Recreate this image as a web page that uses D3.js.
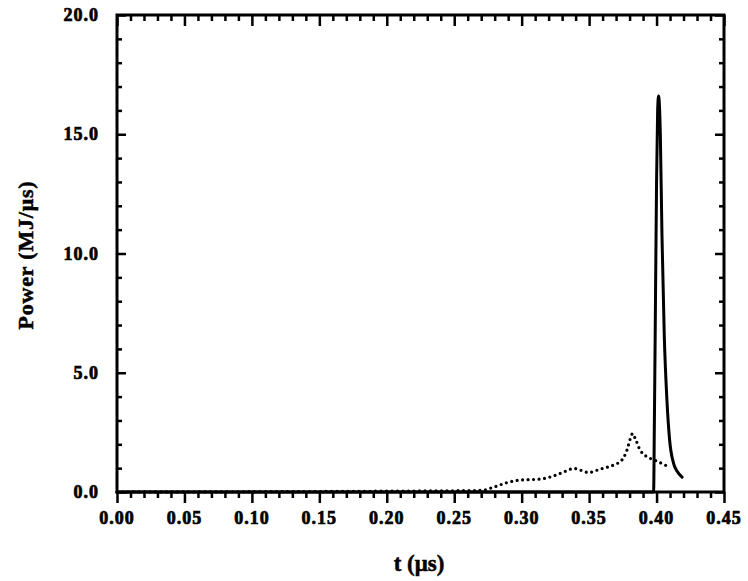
<!DOCTYPE html>
<html><head><meta charset="utf-8">
<script src="https://cdn.jsdelivr.net/npm/d3@7"></script>
<style>
html,body{margin:0;padding:0;background:#fff;}
svg text{font-family:"Liberation Serif","DejaVu Serif",serif;font-weight:bold;fill:#000;}
</style></head>
<body>
<svg id="chart" width="748" height="581"></svg>
<script>
// Solid curve: power vs time
const solidT = [0.0, 0.3978, 0.3984, 0.3992, 0.4000, 0.4008, 0.4015, 0.4028, 0.4040, 0.4057, 0.4077, 0.4097, 0.4126, 0.4155, 0.4189];
const solidP = [0.0, 0.0, 3.0, 8.0, 13.0, 16.0, 16.6, 15.0, 10.8, 6.6, 3.84, 2.17, 1.2, 0.85, 0.62];
// Dotted curve
const dotT = [0.0, 0.2394, 0.2617, 0.2716, 0.279, 0.289, 0.2988, 0.3137, 0.3235, 0.3335, 0.3384, 0.3434, 0.3495, 0.3582, 0.368, 0.3743, 0.378, 0.381, 0.3822, 0.3842, 0.3879, 0.3953, 0.4003, 0.4089];
const dotP = [0.0, 0.05, 0.06, 0.08, 0.2, 0.39, 0.5, 0.54, 0.67, 0.89, 0.99, 0.92, 0.82, 0.96, 1.13, 1.34, 1.75, 2.31, 2.45, 2.24, 1.75, 1.41, 1.29, 1.06];
const xTicks = [0.00, 0.05, 0.10, 0.15, 0.20, 0.25, 0.30, 0.35, 0.40, 0.45];
const xTickLabels = ["0.00", "0.05", "0.10", "0.15", "0.20", "0.25", "0.30", "0.35", "0.40", "0.45"];
const yTicks = [0, 5, 10, 15, 20];
const yTickLabels = ["0.0", "5.0", "10.0", "15.0", "20.0"];
const xTitle = "t (\u03bcs)";
const yTitle = "Power (MJ/\u03bcs)";

const svg = d3.select("#chart");
const L = 117, R = 724, T = 15, B = 492;
const x = d3.scaleLinear().domain([0, 0.45]).range([L, R]);
const y = d3.scaleLinear().domain([0, 20]).range([B, T]);

const xMinor = d3.range(0, 0.4501, 0.01).filter(v => xTicks.every(t => Math.abs(t - v) > 1e-6));
const yMinor = d3.range(0, 20.01, 1).filter(v => yTicks.every(t => Math.abs(t - v) > 1e-6));

const g = svg.append("g");
function axisStyle(sel){ sel.select(".domain").remove(); sel.selectAll("line").attr("stroke","#000").attr("stroke-width",2.5); sel.selectAll("text").remove(); }

// bottom (outward ticks)
g.append("g").attr("transform",`translate(0,${B})`).call(d3.axisBottom(x).tickValues(xTicks).tickSize(11)).call(axisStyle);
g.append("g").attr("transform",`translate(0,${B})`).call(d3.axisBottom(x).tickValues(xMinor).tickSize(6)).call(axisStyle);
// top (inward)
g.append("g").attr("transform",`translate(0,${T})`).call(d3.axisTop(x).tickValues(xTicks).tickSize(-11)).call(axisStyle);
g.append("g").attr("transform",`translate(0,${T})`).call(d3.axisTop(x).tickValues(xMinor).tickSize(-6)).call(axisStyle);
// left (inward)
g.append("g").attr("transform",`translate(${L},0)`).call(d3.axisLeft(y).tickValues(yTicks).tickSize(-9)).call(axisStyle);
g.append("g").attr("transform",`translate(${L},0)`).call(d3.axisLeft(y).tickValues(yMinor).tickSize(-5)).call(axisStyle);
// right (inward)
g.append("g").attr("transform",`translate(${R},0)`).call(d3.axisRight(y).tickValues(yTicks).tickSize(-9)).call(axisStyle);
g.append("g").attr("transform",`translate(${R},0)`).call(d3.axisRight(y).tickValues(yMinor).tickSize(-5)).call(axisStyle);

// frame
svg.append("rect").attr("x",L).attr("y",T).attr("width",R-L).attr("height",B-T)
  .attr("fill","none").attr("stroke","#000").attr("stroke-width",3);

// tick labels
svg.append("g").selectAll("text").data(xTicks).join("text")
  .attr("x",(d)=>x(d)).attr("y",B+32).attr("text-anchor","middle")
  .attr("font-size",18).attr("letter-spacing","1px")
  .attr("stroke","#000").attr("stroke-width",0.7)
  .text((d,i)=>xTickLabels[i]);
svg.append("g").selectAll("text").data(yTicks).join("text")
  .attr("x",L-18).attr("y",(d)=>y(d)+6).attr("text-anchor","end")
  .attr("font-size",18).attr("letter-spacing","1px")
  .attr("stroke","#000").attr("stroke-width",0.7)
  .text((d,i)=>yTickLabels[i]);

// titles
svg.append("text").attr("x",419).attr("y",571).attr("text-anchor","middle")
  .attr("font-size",23).attr("stroke","#000").attr("stroke-width",0.5).text(xTitle);
svg.append("text").attr("transform","translate(33,255) rotate(-90)").attr("text-anchor","middle")
  .attr("font-size",22).attr("letter-spacing","0.8px").attr("stroke","#000").attr("stroke-width",0.5).text(yTitle);

// curves
const line = d3.line().x(d=>x(d[0])).y(d=>y(d[1])).curve(d3.curveMonotoneX);
svg.append("path").datum(dotT.map((t,i)=>[t,dotP[i]]))
  .attr("d",line).attr("fill","none").attr("stroke","#000").attr("stroke-width",3.2)
  .attr("stroke-linecap","round").attr("stroke-dasharray","0 5.5");
svg.append("path").datum(solidT.map((t,i)=>[t,solidP[i]]))
  .attr("d",line)
  .attr("fill","none").attr("stroke","#000").attr("stroke-width",3)
  .attr("stroke-linejoin","round").attr("stroke-linecap","round");
</script>
</body></html>
